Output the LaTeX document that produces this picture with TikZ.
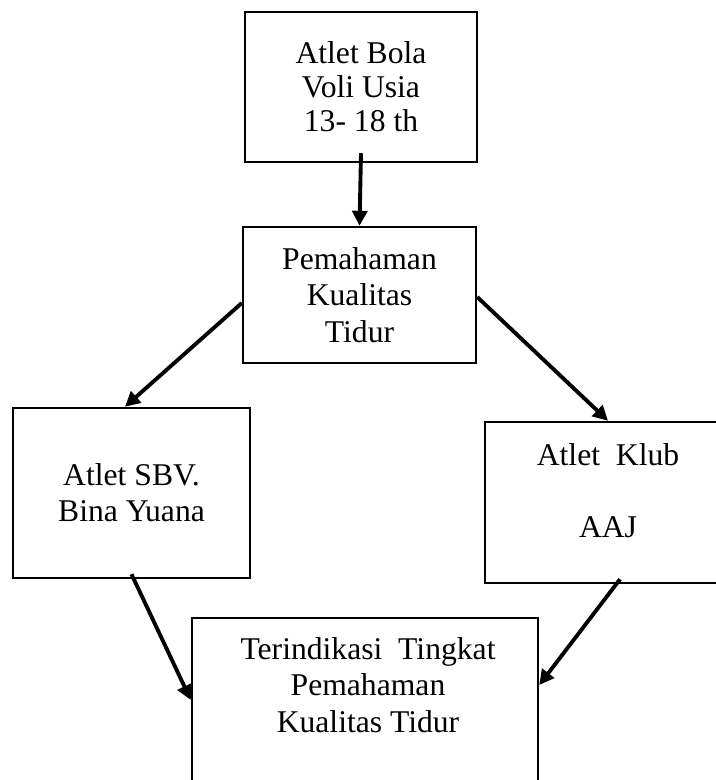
\documentclass[tikz,border=0pt]{standalone}
\usepackage{fontspec}
\setmainfont{Liberation Serif}
\usetikzlibrary{arrows.meta,positioning}

\begin{document}
\begin{tikzpicture}[
          every node/.style={font=\fontsize{18}{20.6}\selectfont, align=center},
          kotak/.style={draw, line width=1.4pt, inner sep=0pt},
          panah/.style={line width=2.2pt, -{Triangle[length=8.5pt,width=8.5pt]}}]
        \useasboundingbox (0,0) rectangle (14.3,-15.6);
        % boxes
        \node[kotak, minimum width=4.64cm, minimum height=3.0cm, font=\fontsize{18}{19.4}\selectfont]
            (atlet) at (7.22,-1.74) {Atlet Bola\\ Voli Usia\\ 13- 18 th};
        \node[kotak, minimum width=4.66cm, minimum height=2.72cm] (pemahaman) at (7.19,-5.9)
            {Pemahaman\\ Kualitas\\ Tidur};
        \node[kotak, minimum width=4.74cm, minimum height=3.4cm] (sbv) at (2.63,-9.86)
            {Atlet SBV.\\ Bina Yuana};
        \node[kotak, minimum width=4.92cm, minimum height=3.22cm] (klub) at (12.16,-10.05) {};
        \node (klubteks) at (12.16,-9.82) {Atlet\ \ Klub\\[20.2pt] AAJ};
        \node[kotak, minimum width=6.92cm, minimum height=3.64cm] (hasil) at (7.3,-14.18) {};
        \node (hasilteks) at (7.36,-13.7)
            {Terindikasi\ \ Tingkat\\ Pemahaman\\ Kualitas Tidur};
        % arrows
        \draw[panah] ([yshift=0.2cm]atlet.south) -- (pemahaman.north);
        \draw[panah] ([yshift=-0.16cm]pemahaman.west) -- ([xshift=-0.13cm]sbv.north);
        \draw[panah] ([yshift=-0.04cm]pemahaman.east) -- (klub.north);
        \draw[panah] ([yshift=0.1cm]sbv.south) -- ([yshift=0.18cm]hasil.west);
        \draw[panah] ([xshift=0.24cm,yshift=0.1cm]klub.south) -- ([yshift=0.48cm]hasil.east);
      \end{tikzpicture}
\end{document}
